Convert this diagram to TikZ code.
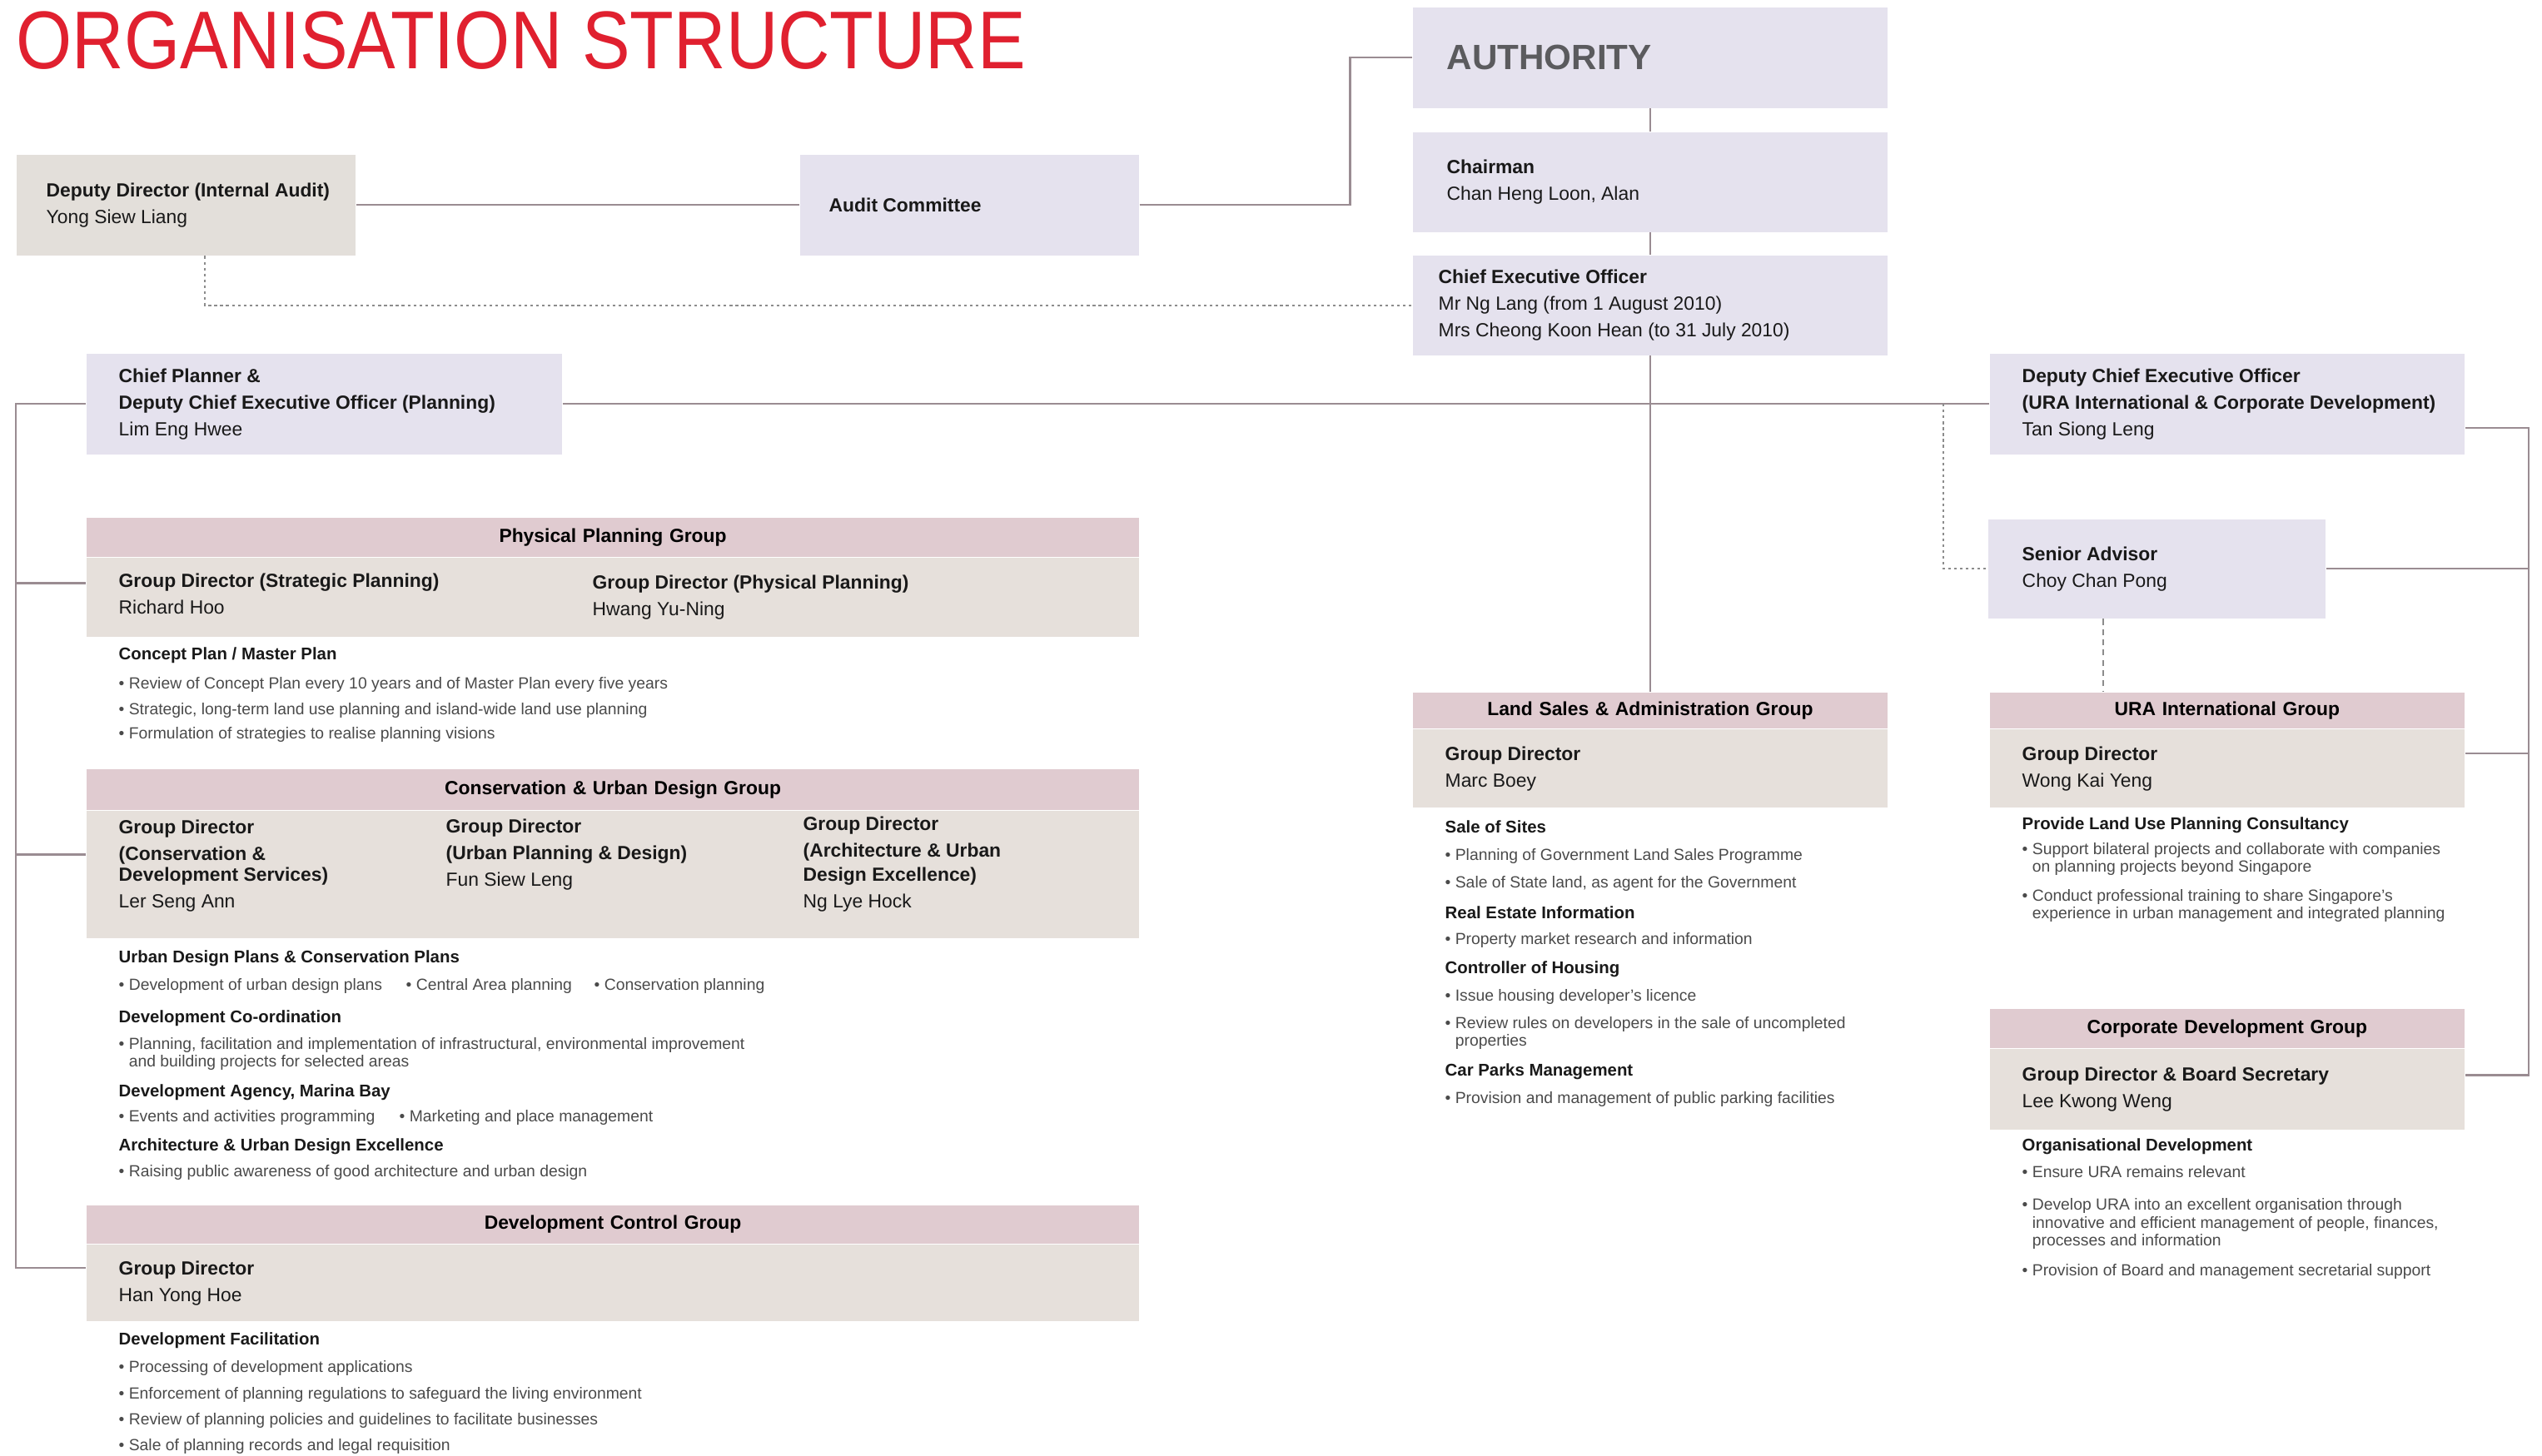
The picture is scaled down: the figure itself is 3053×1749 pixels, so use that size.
\documentclass[tikz,border=0pt]{standalone}
\usepackage{fontspec}
\setmainfont{Liberation Sans}
\newfontfamily\titlefont[FakeStretch=0.877]{Liberation Sans}
\usetikzlibrary{positioning}
\definecolor{titlered}{HTML}{E0202F}
\definecolor{lavfill}{HTML}{E5E2EE}
\definecolor{headfill}{HTML}{E0CBD0}
\definecolor{bodyfill}{HTML}{E6E0DB}
\definecolor{auditfill}{HTML}{E3DFDA}
\definecolor{linecol}{HTML}{9A8C92}
\definecolor{dotcol}{HTML}{8C8C8C}
\definecolor{bultext}{HTML}{4A4A4A}
\definecolor{authgrey}{HTML}{5B5B5E}
\newcommand{\boxfont}{\fontsize{6.5}{9.1}\selectfont}
\newcommand{\subfont}{\fontsize{5.8}{7}\selectfont\bfseries}
\newcommand{\bulfont}{\fontsize{5.5}{6}\selectfont}
\newcommand{\bul}{\textbullet\ }
\newcommand{\bulgap}{\hphantom{\textbullet\ }}

\begin{document}
\begin{tikzpicture}[x=0.01cm,y=-0.01cm,
  box/.style={anchor=north west,inner sep=0pt},
  head/.style={anchor=north west,inner sep=0pt,fill=headfill,align=center,font=\boxfont\bfseries},
  body/.style={inner sep=0pt,fill=bodyfill},
  boxtext/.style={inner sep=0pt,align=left,font=\boxfont,text=black!90},
  sub/.style={anchor=west,inner sep=0pt,font=\subfont,text=black!90},
  bul/.style={anchor=west,inner sep=0pt,align=left,font=\bulfont,text=bultext},
  conn/.style={draw=linecol,line width=0.7pt},
  dotline/.style={draw=dotcol,line width=0.6pt,dash pattern=on 0.9pt off 1.1pt},
  dashline/.style={draw=dotcol,line width=0.6pt,dash pattern=on 2pt off 1.5pt}]

\useasboundingbox (0,0) rectangle (3053,1749);

\node[anchor=base west,inner sep=0pt,text=titlered,font=\titlefont\fontsize{28}{30}\selectfont] (title) at (19,83) {ORGANISATION STRUCTURE};

\node[box,fill=auditfill,minimum width=4.07cm,minimum height=1.21cm] (dd) at (19,185) {};
\node[boxtext,right=0.36cm of dd.west] (dd-t) {\textbf{Deputy Director (Internal Audit)}\\Yong Siew Liang};

\node[box,fill=lavfill,minimum width=4.07cm,minimum height=1.21cm] (ac) at (960,185) {};
\node[boxtext,right=0.35cm of ac.west] (ac-t) {\textbf{Audit Committee}};

\node[box,fill=lavfill,minimum width=5.70cm,minimum height=1.21cm] (auth) at (1696,8) {};
\node[boxtext,right=0.41cm of auth.west,font=\fontsize{12}{14}\selectfont\bfseries,text=authgrey] (auth-t) {AUTHORITY};

\node[box,fill=lavfill,minimum width=5.70cm,minimum height=1.20cm] (chair) at (1696,158) {};
\node[boxtext,right=0.41cm of chair.west] (chair-t) {\textbf{Chairman}\\Chan Heng Loon, Alan};

\node[box,fill=lavfill,minimum width=5.70cm,minimum height=1.20cm] (ceo) at (1696,306) {};
\node[boxtext,right=0.31cm of ceo.west] (ceo-t) {\textbf{Chief Executive Officer}\\Mr Ng Lang (from 1 August 2010)\\Mrs Cheong Koon Hean (to 31 July 2010)};

\node[box,fill=lavfill,minimum width=5.71cm,minimum height=1.21cm] (cp) at (103,424) {};
\node[boxtext,right=0.39cm of cp.west] (cp-t) {\textbf{Chief Planner \&}\\\textbf{Deputy Chief Executive Officer (Planning)}\\Lim Eng Hwee};

\node[box,fill=lavfill,minimum width=5.70cm,minimum height=1.21cm] (dceo) at (2389,424) {};
\node[boxtext,right=0.39cm of dceo.west] (dceo-t) {\textbf{Deputy Chief Executive Officer}\\\textbf{(URA International \& Corporate Development)}\\Tan Siong Leng};

\node[box,fill=lavfill,minimum width=4.05cm,minimum height=1.19cm] (sa) at (2387,623) {};
\node[boxtext,right=0.41cm of sa.west] (sa-t) {\textbf{Senior Advisor}\\Choy Chan Pong};

\node[head,text width=12.64cm,minimum height=0.47cm] (ppgh) at (103,621) {Physical Planning Group};
\node[body,minimum width=12.64cm,minimum height=0.95cm,below=0pt of ppgh] (ppgb) {};
\node[boxtext,anchor=west] (ppg1) at (142,713) {\textbf{Group Director (Strategic Planning)}\\Richard Hoo};
\node[boxtext,anchor=west] (ppg2) at (711,718) {\textbf{Group Director (Physical Planning)}\\Hwang Yu-Ning};

\node[sub] (ppg-s1) at (142,787) {Concept Plan / Master Plan};
\node[bul] (ppg-b1) at (142,822) {\bul Review of Concept Plan every 10 years and of Master Plan every five years};
\node[bul] (ppg-b2) at (142,853) {\bul Strategic, long-term land use planning and island-wide land use planning};
\node[bul] (ppg-b3) at (142,882) {\bul Formulation of strategies to realise planning visions};

\node[head,text width=12.64cm,minimum height=0.49cm] (cudgh) at (103,923) {Conservation \& Urban Design Group};
\node[body,minimum width=12.64cm,minimum height=1.53cm,below=0pt of cudgh] (cudgb) {};
\node[boxtext,anchor=west] (cud1) at (142,1040) {\textbf{Group Director}\\\textbf{(Conservation \&}\\[-2pt]\textbf{Development Services)}\\Ler Seng Ann};
\node[boxtext,anchor=west] (cud2) at (535,1027) {\textbf{Group Director}\\\textbf{(Urban Planning \& Design)}\\Fun Siew Leng};
\node[boxtext,anchor=west] (cud3) at (964,1038) {\textbf{Group Director}\\\textbf{(Architecture \& Urban}\\[-1pt]\textbf{Design Excellence)}\\Ng Lye Hock};

\node[sub] (cud-s1) at (142,1151) {Urban Design Plans \& Conservation Plans};
\node[bul] (cud-b1) at (142,1184) {\bul Development of urban design plans};
\node[bul] (cud-b2) at (487,1184) {\bul Central Area planning};
\node[bul] (cud-b3) at (713,1184) {\bul Conservation planning};
\node[sub] (cud-s2) at (142,1223) {Development Co-ordination};
\node[bul] (cud-b4) at (142,1266) {\bul Planning, facilitation and implementation of infrastructural, environmental improvement\\\bulgap and building projects for selected areas};
\node[sub] (cud-s3) at (142,1312) {Development Agency, Marina Bay};
\node[bul] (cud-b5) at (142,1342) {\bul Events and activities programming};
\node[bul] (cud-b6) at (479,1342) {\bul Marketing and place management};
\node[sub] (cud-s4) at (142,1377) {Architecture \& Urban Design Excellence};
\node[bul] (cud-b7) at (142,1408) {\bul Raising public awareness of good architecture and urban design};

\node[head,text width=12.64cm,minimum height=0.46cm] (dcgh) at (103,1447) {Development Control Group};
\node[body,minimum width=12.64cm,minimum height=0.92cm,below=0pt of dcgh] (dcgb) {};
\node[boxtext,right=0.39cm of dcgb.west] (dcg-t) {\textbf{Group Director}\\Han Yong Hoe};

\node[sub] (dcg-s1) at (142,1610) {Development Facilitation};
\node[bul] (dcg-b1) at (142,1643) {\bul Processing of development applications};
\node[bul] (dcg-b2) at (142,1675) {\bul Enforcement of planning regulations to safeguard the living environment};
\node[bul] (dcg-b3) at (142,1706) {\bul Review of planning policies and guidelines to facilitate businesses};
\node[bul] (dcg-b4) at (142,1737) {\bul Sale of planning records and legal requisition};

\node[head,text width=5.70cm,minimum height=0.43cm] (lsagh) at (1696,831) {Land Sales \& Administration Group};
\node[body,minimum width=5.70cm,minimum height=0.94cm,below=0pt of lsagh] (lsagb) {};
\node[boxtext,right=0.39cm of lsagb.west] (lsag-t) {\textbf{Group Director}\\Marc Boey};

\node[sub] (ls-s1) at (1735,993) {Sale of Sites};
\node[bul] (ls-b1) at (1735,1028) {\bul Planning of Government Land Sales Programme};
\node[bul] (ls-b2) at (1735,1061) {\bul Sale of State land, as agent for the Government};
\node[sub] (ls-s2) at (1735,1096) {Real Estate Information};
\node[bul] (ls-b3) at (1735,1129) {\bul Property market research and information};
\node[sub] (ls-s3) at (1735,1164) {Controller of Housing};
\node[bul] (ls-b4) at (1735,1197) {\bul Issue housing developer's licence};
\node[bul] (ls-b5) at (1735,1241) {\bul Review rules on developers in the sale of uncompleted\\\bulgap properties};
\node[sub] (ls-s4) at (1735,1287) {Car Parks Management};
\node[bul] (ls-b6) at (1735,1320) {\bul Provision and management of public parking facilities};

\node[head,text width=5.70cm,minimum height=0.43cm] (uigh) at (2389,831) {URA International Group};
\node[body,minimum width=5.70cm,minimum height=0.94cm,below=0pt of uigh] (uigb) {};
\node[boxtext,right=0.39cm of uigb.west] (uig-t) {\textbf{Group Director}\\Wong Kai Yeng};

\node[sub] (ui-s1) at (2428,991) {Provide Land Use Planning Consultancy};
\node[bul] (ui-b1) at (2428,1032) {\bul Support bilateral projects and collaborate with companies\\\bulgap on planning projects beyond Singapore};
\node[bul] (ui-b2) at (2428,1088) {\bul Conduct professional training to share Singapore's\\\bulgap experience in urban management and integrated planning};

\node[head,text width=5.70cm,minimum height=0.47cm] (cdgh) at (2389,1211) {Corporate Development Group};
\node[body,minimum width=5.70cm,minimum height=0.97cm,below=0pt of cdgh] (cdgb) {};
\node[boxtext,right=0.39cm of cdgb.west] (cdg-t) {\textbf{Group Director \& Board Secretary}\\Lee Kwong Weng};

\node[sub] (cd-s1) at (2428,1377) {Organisational Development};
\node[bul] (cd-b1) at (2428,1408) {\bul Ensure URA remains relevant};
\node[bul] (cd-b2) at (2428,1470) {\bul Develop URA into an excellent organisation through\\\bulgap innovative and efficient management of people, finances,\\\bulgap processes and information};
\node[bul] (cd-b3) at (2428,1527) {\bul Provision of Board and management secretarial support};

\draw[conn] (auth) -- (chair);
\draw[conn] (chair) -- (ceo);
\draw[conn] (ceo) -- (lsagh);
\draw[conn] (dd) -- (ac);
\draw[conn] (ac.east) -- ++(253,0) |- (auth.west);
\draw[conn] (cp) -- (dceo);
\draw[dotline] ([xshift=0.23cm]dd.south) |- (ceo.west);
\draw[dotline] ([xshift=-0.55cm]dceo.west) |- (sa.west);
\coordinate (sad) at ([xshift=-0.64cm]sa.south);
\draw[dashline] (sad) -- (sad |- uigh.north);

\coordinate (rb) at (3037,514);
\draw[conn] (dceo.east |- rb) -- (rb) |- ([yshift=0.17cm]cdgb.east);
\draw[conn] (sa.east) -- (sa.east -| rb);
\coordinate (uie) at ([yshift=0.18cm]uigb.east);
\draw[conn] (uie) -- (uie -| rb);

\coordinate (lb) at (19,1523);
\draw[conn] (cp.west) -| (lb) -- (lb -| dcgb.west);
\coordinate (ppe) at ([yshift=0.17cm]ppgb.west);
\draw[conn] (ppe) -- (ppe -| lb);
\coordinate (cue) at ([yshift=0.24cm]cudgb.west);
\draw[conn] (cue) -- (cue -| lb);
\end{tikzpicture}
\end{document}
